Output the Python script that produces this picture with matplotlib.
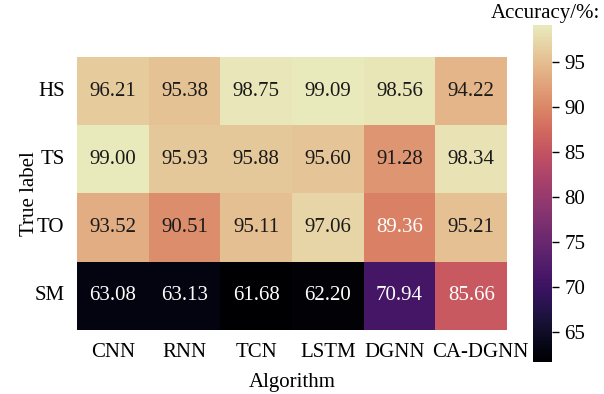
import numpy as np
import matplotlib
matplotlib.use("Agg")
import matplotlib.pyplot as plt
from matplotlib.colors import ListedColormap
from matplotlib.transforms import ScaledTranslation
import seaborn as sns

algorithms = ["CNN", "RNN", "TCN", "LSTM", "DGNN", "CA-DGNN"]
labels = ["HS", "TS", "TO", "SM"]

hs = [96.21, 95.38, 98.75, 99.09, 98.56, 94.22]
ts = [99.00, 95.93, 95.88, 95.60, 91.28, 98.34]
to = [93.52, 90.51, 95.11, 97.06, 89.36, 95.21]
sm = [63.08, 63.13, 61.68, 62.20, 70.94, 85.66]


def muted_magma(sat=0.8, dim=0.93):
    # magma, a bit washed out like the printed figure
    c = plt.get_cmap("magma")(np.linspace(0, 1, 256))[:, :3]
    lum = (c @ np.array([0.299, 0.587, 0.114]))[:, None]
    c = dim * (lum + sat * (c - lum))
    return ListedColormap(np.clip(c, 0, 1))


def main():
    plt.rcParams["font.family"] = ["Liberation Serif", "DejaVu Serif"]
    acc = np.array([hs, ts, to, sm])

    fig = plt.figure(figsize=(6.04, 3.94), dpi=100)
    ax = fig.add_axes([0.1275, 0.1624, 0.712, 0.693])
    cax = fig.add_axes([0.8825, 0.0812, 0.0315, 0.855])

    sns.heatmap(acc, ax=ax, cbar_ax=cax, cmap=muted_magma(), annot=True, fmt=".2f",
                annot_kws={"fontsize": 15}, xticklabels=algorithms, yticklabels=labels)

    # white text on the darker cells
    for t, v in zip(ax.texts, acc.flatten()):
        t.set_color("white" if v < 90 else "#1a1a1a")

    ax.tick_params(axis="both", length=0, labelsize=15, pad=9)
    ax.set_yticklabels(labels, rotation=0)
    ax.set_xlabel("Algorithm", fontsize=15, labelpad=8)
    ax.set_ylabel("True label", fontsize=15, labelpad=-3)

    # last two labels are crowded, nudge them apart
    xt = ax.get_xticklabels()
    xt[-2].set_transform(xt[-2].get_transform() + ScaledTranslation(-5 / 100, 0, fig.dpi_scale_trans))
    xt[-1].set_transform(xt[-1].get_transform() + ScaledTranslation(9 / 100, 0, fig.dpi_scale_trans))

    cax.tick_params(labelsize=15, length=5, width=1, pad=4)
    fig.text(0.993, 0.965, "Accuracy/%:", ha="right", va="center", fontsize=15)

    fig.savefig("out.png", dpi=100)


if __name__ == "__main__":
    main()
